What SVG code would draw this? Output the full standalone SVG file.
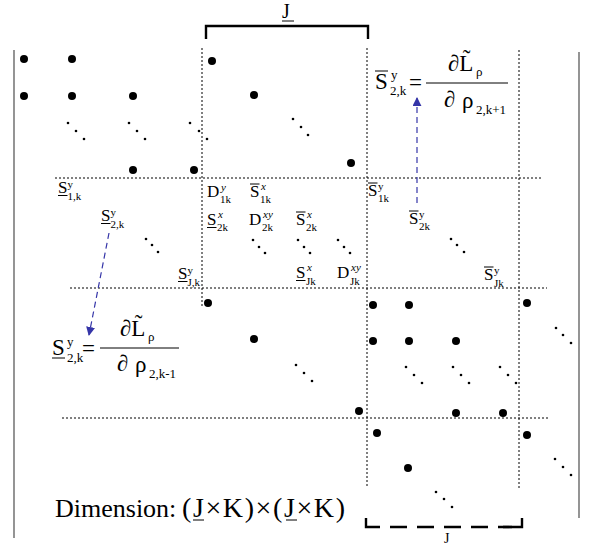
<svg xmlns="http://www.w3.org/2000/svg" width="596" height="547" viewBox="0 0 596 547">
<defs>
<style>
.t{font-family:"Liberation Serif","Times New Roman",serif;fill:#000}
.m{font-size:17px}
.s{font-size:11px}
.i{font-style:italic}
.e{font-size:23px}
.es{font-size:13px}
.big{fill:#000}
.sm{fill:#000}
.grid{stroke:#000;stroke-width:1;stroke-dasharray:2 2;fill:none}
.bar{stroke:#000;stroke-width:1;fill:none}
.brd{stroke:#7a7a7a;stroke-width:1.6;fill:none}
.arr{stroke:#3535a8;stroke-width:1.2;stroke-dasharray:6 4;fill:none}
.brk{stroke:#000;stroke-width:2.4;fill:none}
</style>
<marker id="ah" viewBox="0 0 10 10" refX="9" refY="5" markerWidth="9" markerHeight="9" markerUnits="userSpaceOnUse" orient="auto">
<path d="M0,0 L10,5 L0,10 z" fill="#3535a8"/>
</marker>
</defs>
<rect width="596" height="547" fill="#fff"/>

<g id="frame">
<line class="brd" x1="14" y1="50" x2="14" y2="538"/>
<line class="brd" x1="579" y1="52" x2="579" y2="518"/>
<polyline class="brk" points="206,39 206,26 368,26 368,39"/>
<text class="t" x="282" y="18" font-size="20">J</text>
<line class="bar" x1="282" y1="21" x2="294" y2="21" stroke-width="1.2"/>
<path class="brk" d="M366,518 V527 H380" stroke-width="2"/>
<line class="brk" x1="380" y1="527" x2="512" y2="527" stroke-width="2" stroke-dasharray="17 10" stroke-dashoffset="-10"/>
<path class="brk" d="M503,527 H522 V518" stroke-width="2"/>
<text class="t" x="444" y="543" font-size="14">J</text>
</g>

<g id="grid">
<line class="grid" x1="202" y1="48" x2="202" y2="307"/>
<line class="grid" x1="367" y1="48" x2="367" y2="487"/>
<line class="grid" x1="519" y1="50" x2="519" y2="488"/>
<line class="grid" x1="55" y1="178" x2="541" y2="178"/>
<line class="grid" x1="70" y1="288" x2="547" y2="288"/>
<line class="grid" x1="62" y1="418" x2="548" y2="418"/>
</g>

<g id="dots">
<circle class="big" cx="24" cy="59" r="4"/><circle class="big" cx="72" cy="59" r="4"/><circle class="big" cx="212" cy="61" r="4"/>
<circle class="big" cx="24" cy="96" r="4"/><circle class="big" cx="72" cy="96" r="4"/><circle class="big" cx="133" cy="96" r="4"/><circle class="big" cx="254" cy="95" r="4"/>
<circle class="big" cx="133" cy="170" r="4"/><circle class="big" cx="194" cy="170" r="4"/><circle class="big" cx="351" cy="163" r="4"/>
<circle class="big" cx="208" cy="303" r="4"/><circle class="big" cx="254" cy="339" r="4"/><circle class="big" cx="359" cy="411" r="4"/>
<circle class="big" cx="373" cy="305" r="4"/><circle class="big" cx="409" cy="305" r="4"/>
<circle class="big" cx="373" cy="341" r="4"/><circle class="big" cx="409" cy="341" r="4"/><circle class="big" cx="456" cy="341" r="4"/>
<circle class="big" cx="456" cy="413" r="4"/><circle class="big" cx="503" cy="413" r="4"/>
<circle class="big" cx="527" cy="303" r="4"/><circle class="big" cx="377" cy="433" r="4"/><circle class="big" cx="408" cy="468" r="4"/><circle class="big" cx="527" cy="435" r="4"/>
<g class="sm">
<circle cx="68" cy="123" r="1.3"/><circle cx="76" cy="131" r="1.3"/><circle cx="84" cy="139" r="1.3"/>
<circle cx="129" cy="123" r="1.3"/><circle cx="137" cy="131" r="1.3"/><circle cx="145" cy="139" r="1.3"/>
<circle cx="190" cy="123" r="1.3"/><circle cx="199" cy="131" r="1.3"/><circle cx="207" cy="139" r="1.3"/>
<circle cx="293" cy="119" r="1.3"/><circle cx="301" cy="127" r="1.3"/><circle cx="308" cy="135" r="1.3"/>
<circle cx="146" cy="239" r="1.3"/><circle cx="152" cy="245" r="1.3"/><circle cx="158" cy="252" r="1.3"/>
<circle cx="253" cy="240" r="1.3"/><circle cx="259" cy="247" r="1.3"/><circle cx="265" cy="253" r="1.3"/>
<circle cx="298" cy="240" r="1.3"/><circle cx="304" cy="247" r="1.3"/><circle cx="310" cy="253" r="1.3"/>
<circle cx="338" cy="240" r="1.3"/><circle cx="344" cy="247" r="1.3"/><circle cx="350" cy="253" r="1.3"/>
<circle cx="451" cy="239" r="1.3"/><circle cx="457" cy="245" r="1.3"/><circle cx="464" cy="252" r="1.3"/>
<circle cx="296" cy="365" r="1.3"/><circle cx="304" cy="373" r="1.3"/><circle cx="312" cy="381" r="1.3"/>
<circle cx="406" cy="367" r="1.3"/><circle cx="414" cy="375" r="1.3"/><circle cx="422" cy="383" r="1.3"/>
<circle cx="453" cy="367" r="1.3"/><circle cx="461" cy="375" r="1.3"/><circle cx="469" cy="383" r="1.3"/>
<circle cx="500" cy="367" r="1.3"/><circle cx="508" cy="375" r="1.3"/><circle cx="516" cy="383" r="1.3"/>
<circle cx="556" cy="328" r="1.3"/><circle cx="563" cy="335" r="1.3"/><circle cx="571" cy="343" r="1.3"/>
<circle cx="436" cy="492" r="1.3"/><circle cx="444" cy="499" r="1.3"/><circle cx="452" cy="507" r="1.3"/>
<circle cx="555" cy="459" r="1.3"/><circle cx="563" cy="467" r="1.3"/><circle cx="571" cy="475" r="1.3"/>
</g>
</g>

<g id="labels-left">
<g id="S1k-under"><text class="t m" x="58" y="193">S</text><text class="t s" x="67.5" y="188">y</text><text class="t s" x="67.5" y="200">1,k</text><line class="bar" x1="58" y1="195.5" x2="67.5" y2="195.5"/></g>
<g id="S2k-under"><text class="t m" x="101" y="221">S</text><text class="t s" x="110.5" y="216">y</text><text class="t s" x="110.5" y="228">2,k</text><line class="bar" x1="101" y1="223.5" x2="110.5" y2="223.5"/></g>
<g id="SJk-under"><text class="t m" x="178" y="279">S</text><text class="t s" x="187.5" y="274">y</text><text class="t s" x="187.5" y="286">J,k</text><line class="bar" x1="178" y1="281.5" x2="187.5" y2="281.5"/></g>
</g>

<g id="labels-mid">
<g id="Dy1k"><text class="t m" x="207" y="197">D</text><text class="t s i" x="221" y="191">y</text><text class="t s" x="220" y="203">1k</text></g>
<g id="Sx1k-over"><text class="t m" x="250" y="197">S</text><text class="t s i" x="261" y="190">x</text><text class="t s" x="260" y="203">1k</text><line class="bar" x1="250" y1="184" x2="259.5" y2="184"/></g>
<g id="Sx2k-under"><text class="t m" x="207" y="225">S</text><text class="t s i" x="218" y="218">x</text><text class="t s" x="217" y="231">2k</text><line class="bar" x1="207" y1="227.5" x2="216.5" y2="227.5"/></g>
<g id="Dxy2k"><text class="t m" x="249" y="225">D</text><text class="t s i" x="263" y="218">xy</text><text class="t s" x="262" y="231">2k</text></g>
<g id="Sx2k-over"><text class="t m" x="296" y="225">S</text><text class="t s i" x="307" y="218">x</text><text class="t s" x="306" y="231">2k</text><line class="bar" x1="296" y1="212" x2="305.5" y2="212"/></g>
<g id="SxJk-under"><text class="t m" x="296" y="278">S</text><text class="t s i" x="307" y="271">x</text><text class="t s" x="306" y="285">Jk</text><line class="bar" x1="296" y1="280.5" x2="305.5" y2="280.5"/></g>
<g id="DxyJk"><text class="t m" x="337" y="278">D</text><text class="t s i" x="351" y="271">xy</text><text class="t s" x="350" y="285">Jk</text></g>
</g>

<g id="labels-right">
<g id="Sy1k-over"><text class="t m" x="368" y="196">S</text><text class="t s" x="378" y="190">y</text><text class="t s" x="378" y="202">1k</text><line class="bar" x1="368" y1="183" x2="377.5" y2="183"/></g>
<g id="Sy2k-over"><text class="t m" x="409" y="224">S</text><text class="t s" x="419" y="218">y</text><text class="t s" x="419" y="230">2k</text><line class="bar" x1="409" y1="211" x2="418.5" y2="211"/></g>
<g id="SyJk-over"><text class="t m" x="484" y="280">S</text><text class="t s" x="494" y="274">y</text><text class="t s" x="494" y="287">Jk</text><line class="bar" x1="484" y1="267" x2="493.5" y2="267"/></g>
</g>

<g id="eq-top">
<text class="t e" x="375" y="89">S</text>
<line class="bar" x1="375" y1="71" x2="388" y2="71" stroke-width="1.2"/>
<text class="t es" x="391" y="79">y</text>
<text class="t es" x="390" y="95">2,k</text>
<text class="t e" x="409" y="90">=</text>
<line class="bar" x1="426" y1="83" x2="508" y2="83" stroke-width="1.2"/>
<text class="t e" x="448" y="71">∂L&#x303;</text>
<text class="t es" x="476" y="76">ρ</text>
<text class="t e" x="444" y="107">∂</text>
<text class="t e" x="462" y="108">ρ</text>
<text class="t es" x="476" y="114">2,k+1</text>
</g>

<g id="eq-bottom">
<text class="t e" x="52" y="355">S</text>
<line class="bar" x1="52" y1="358" x2="65" y2="358" stroke-width="1.2"/>
<text class="t es" x="67" y="346">y</text>
<text class="t es" x="67" y="362">2,k</text>
<text class="t e" x="82" y="356">=</text>
<line class="bar" x1="100" y1="348" x2="179" y2="348" stroke-width="1.2"/>
<text class="t e" x="120" y="336">∂L&#x303;</text>
<text class="t es" x="148" y="341">ρ</text>
<text class="t e" x="117" y="371">∂</text>
<text class="t e" x="135" y="372">ρ</text>
<text class="t es" x="149" y="378">2,k-1</text>
</g>

<g id="connectors">
<line class="arr" x1="417" y1="203" x2="417" y2="98" marker-end="url(#ah)"/>
<line class="arr" x1="109" y1="233" x2="89" y2="335" marker-end="url(#ah)"/>
</g>

<g id="dimension">
<text class="t" font-size="26" x="55" y="517">Dimension:</text>
<text class="t" font-size="28" x="182" y="517" textLength="163" lengthAdjust="spacing">(J×K)×(J×K)</text>
<line class="bar" x1="193" y1="520" x2="204" y2="520" stroke-width="1.3"/>
<line class="bar" x1="286" y1="520" x2="297" y2="520" stroke-width="1.3"/>
</g>
</svg>
